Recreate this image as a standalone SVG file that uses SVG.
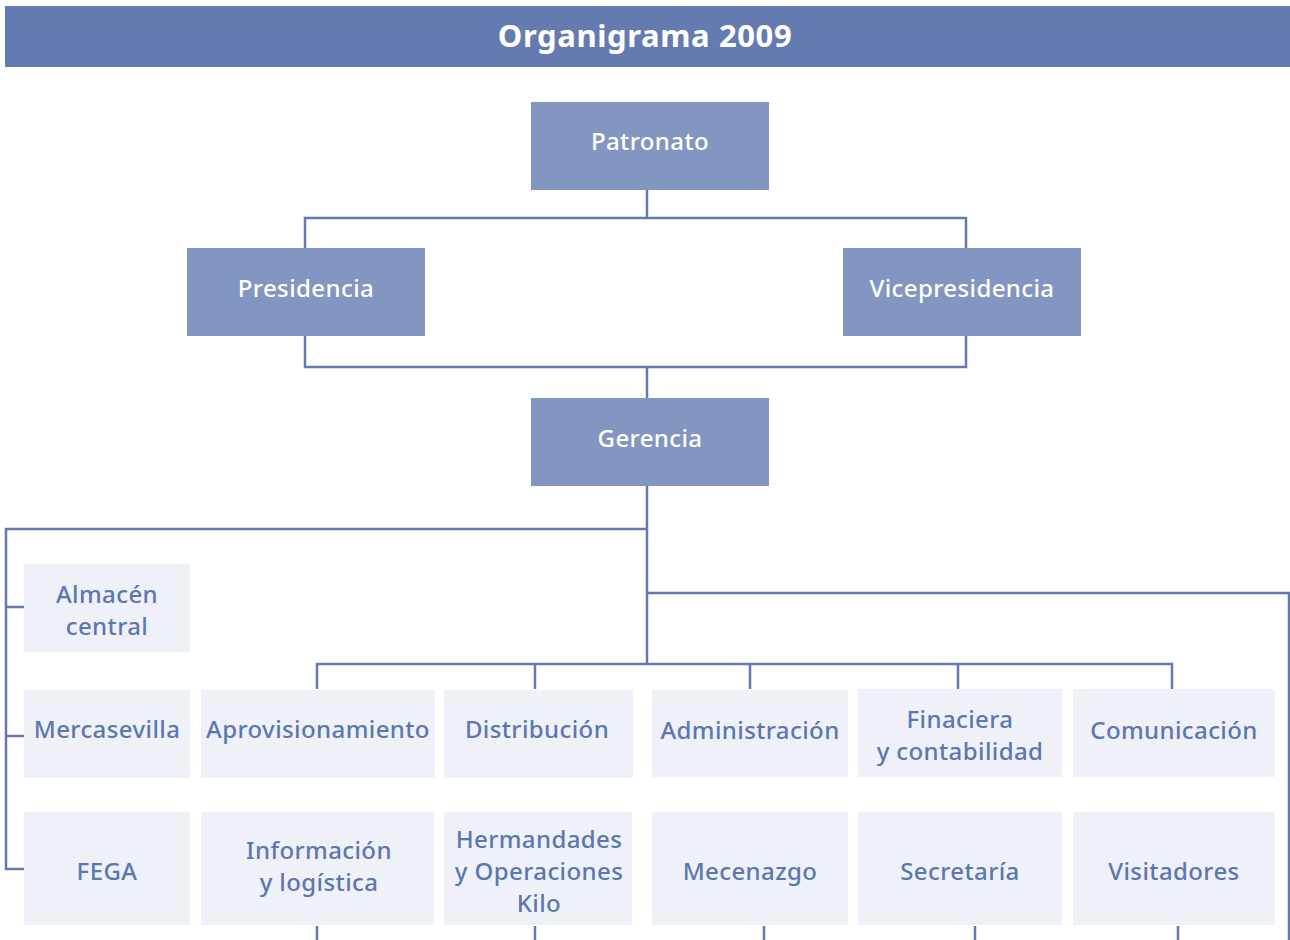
<svg xmlns="http://www.w3.org/2000/svg" width="1290" height="940" viewBox="0 0 1290 940">
<style>
.dark{fill:#8296c1}
.light{fill:#eef1f7}
.tw{fill:#ffffff;font-family:"Noto Sans","DejaVu Sans",sans-serif;font-size:24px;font-weight:500;letter-spacing:0.4px;text-anchor:middle}
.tb{fill:#5d76b0;font-family:"Noto Sans","DejaVu Sans",sans-serif;font-size:24px;font-weight:500;letter-spacing:0.4px;text-anchor:middle}
.ln{fill:none;stroke:#6479b0;stroke-width:2.5}
</style>
<rect width="1290" height="940" fill="#ffffff"/>
<g id="title">
<rect x="5" y="6" width="1285" height="61" fill="#647bb2"/>
<text x="645" y="47" fill="#ffffff" font-family="'Noto Sans','DejaVu Sans',sans-serif" font-size="31" font-weight="bold" letter-spacing="0.6" text-anchor="middle">Organigrama 2009</text>
</g>
<g id="connectors">
<path class="ln" d="M647 190V218M305 248V218H966V248"/>
<path class="ln" d="M305 336V367H966V336M647 367V398"/>
<path class="ln" d="M647 486V664"/>
<path class="ln" d="M647 529H6V869H24M6 607H24M6 736H24"/>
<path class="ln" d="M647 593H1289V940"/>
<path class="ln" d="M317 689V664H1172V689M535 664V689M750 664V689M958 664V689"/>
<path class="ln" d="M317 926V940M535 926V940M764 926V940M975 926V940M1178 926V940"/>
</g>
<g id="patronato"><rect class="dark" x="531" y="102" width="238" height="88"/><text class="tw" x="650" y="150">Patronato</text></g>
<g id="presidencia"><rect class="dark" x="187" y="248" width="238" height="88"/><text class="tw" x="306" y="297">Presidencia</text></g>
<g id="vicepresidencia"><rect class="dark" x="843" y="248" width="238" height="88"/><text class="tw" x="962" y="297">Vicepresidencia</text></g>
<g id="gerencia"><rect class="dark" x="531" y="398" width="238" height="88"/><text class="tw" x="650" y="447">Gerencia</text></g>
<g id="almacen"><rect class="light" x="24" y="564" width="166" height="88"/><text class="tb" x="107" y="603">Almacén</text><text class="tb" x="107" y="635">central</text></g>
<g id="mercasevilla"><rect class="light" x="24" y="690" width="166" height="88"/><text class="tb" x="107" y="738">Mercasevilla</text></g>
<g id="fega"><rect class="light" x="24" y="812" width="166" height="113"/><text class="tb" x="107" y="880">FEGA</text></g>
<g id="aprovisionamiento"><rect class="light" x="201" y="690" width="234" height="88"/><text class="tb" x="318" y="738">Aprovisionamiento</text></g>
<g id="informacion"><rect class="light" x="201" y="812" width="233" height="113"/><text class="tb" x="319" y="859">Información</text><text class="tb" x="319" y="891">y logística</text></g>
<g id="distribucion"><rect class="light" x="444" y="690" width="189" height="88"/><text class="tb" x="537" y="738">Distribución</text></g>
<g id="hermandades"><rect class="light" x="444" y="812" width="188" height="113"/><text class="tb" x="539" y="848">Hermandades</text><text class="tb" x="539" y="880">y Operaciones</text><text class="tb" x="539" y="912">Kilo</text></g>
<g id="administracion"><rect class="light" x="652" y="690" width="196" height="87"/><text class="tb" x="750" y="739">Administración</text></g>
<g id="mecenazgo"><rect class="light" x="652" y="812" width="196" height="113"/><text class="tb" x="750" y="880">Mecenazgo</text></g>
<g id="financiera"><rect class="light" x="858" y="689" width="204" height="88"/><text class="tb" x="960" y="728">Finaciera</text><text class="tb" x="960" y="760">y contabilidad</text></g>
<g id="secretaria"><rect class="light" x="858" y="812" width="204" height="113"/><text class="tb" x="960" y="880">Secretaría</text></g>
<g id="comunicacion"><rect class="light" x="1073" y="689" width="202" height="88"/><text class="tb" x="1174" y="739">Comunicación</text></g>
<g id="visitadores"><rect class="light" x="1073" y="812" width="202" height="113"/><text class="tb" x="1174" y="880">Visitadores</text></g>
</svg>
